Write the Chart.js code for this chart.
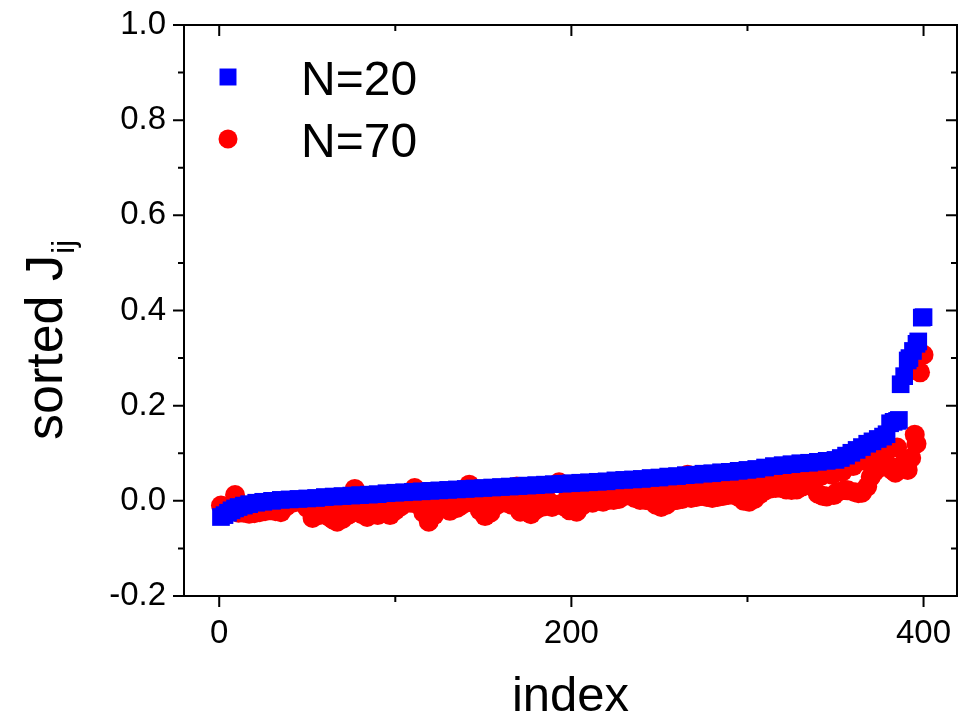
<!DOCTYPE html>
<html lang="en">
<head>
<meta charset="UTF-8" />
<title>sorted Jij</title>
<script src="https://cdn.jsdelivr.net/npm/chart.js"></script>
<style>
  body { margin: 0; background: #fff; }
  #wrap { width: 960px; height: 724px; }
</style>
</head>
<body>
<div id="wrap"><canvas id="jChart" width="960" height="724"></canvas></div>
<script>
const FONT = "'Liberation Sans', Arial, Helvetica, sans-serif";

const seriesNames = ['N=20', 'N=70'];
const xTicks = [0, 200, 400];
const yTicks = [-0.2, 0.0, 0.2, 0.4, 0.6, 0.8, 1.0];

// N=20 sorted couplings
const n20Index = [1, 3, 5, 7, 9, 11, 14, 17, 21, 25, 30, 35, 40, 45, 50, 55, 60, 65, 70, 75,
  80, 85, 90, 95, 100, 105, 110, 115, 120, 125, 130, 135, 140, 145, 150, 155, 160, 165, 170, 175,
  180, 185, 190, 195, 200, 205, 210, 215, 220, 225, 230, 235, 240, 245, 250, 255, 260, 265, 270, 275,
  280, 285, 290, 295, 300, 305, 310, 315, 320, 325, 330, 335, 340, 345, 350, 353, 356, 359, 362, 365,
  368, 371, 374, 377, 379, 381, 383, 385, 386, 387, 389, 391, 392, 394, 396, 397, 399, 400];
const n20Value = [-0.034, -0.030, -0.025, -0.020, -0.016, -0.013, -0.010, -0.007, -0.004, -0.002, 0.000, 0.002, 0.003, 0.004, 0.005, 0.006, 0.008, 0.009, 0.010, 0.011,
  0.012, 0.013, 0.014, 0.016, 0.017, 0.018, 0.019, 0.020, 0.021, 0.022, 0.023, 0.024, 0.025, 0.026, 0.027, 0.028, 0.029, 0.030, 0.031, 0.032,
  0.033, 0.034, 0.035, 0.036, 0.037, 0.038, 0.039, 0.040, 0.041, 0.043, 0.044, 0.045, 0.046, 0.048, 0.049, 0.051, 0.052, 0.054, 0.055, 0.057,
  0.058, 0.060, 0.061, 0.063, 0.065, 0.067, 0.070, 0.073, 0.075, 0.077, 0.079, 0.080, 0.082, 0.084, 0.086, 0.090, 0.095, 0.101, 0.107, 0.113,
  0.120, 0.125, 0.130, 0.135, 0.140, 0.163, 0.166, 0.168, 0.170, 0.245, 0.262, 0.295, 0.300, 0.315, 0.330, 0.335, 0.385, 0.386];

// N=70 sorted couplings
const n70Index = [1, 3, 5, 7, 9, 11, 14, 17, 20, 23, 26, 29, 32, 35, 38, 41, 44, 47, 50, 53,
  56, 57, 59, 62, 63, 65, 67, 68, 70, 73, 74, 77, 78, 81, 84, 86, 87, 90, 92, 94,
  97, 98, 100, 103, 106, 109, 111, 113, 116, 118, 119, 122, 124, 125, 128, 131, 134, 135, 137, 140,
  142, 145, 148, 150, 151, 154, 156, 157, 160, 163, 166, 169, 171, 174, 175, 177, 178, 180, 181, 184,
  186, 187, 189, 192, 193, 196, 198, 199, 203, 204, 206, 209, 210, 212, 215, 216, 218, 221, 222, 224,
  227, 228, 230, 233, 234, 236, 239, 240, 242, 245, 246, 248, 251, 252, 254, 257, 258, 260, 263, 264,
  266, 268, 270, 271, 274, 276, 277, 280, 282, 283, 286, 288, 289, 292, 294, 295, 298, 300, 301, 304,
  306, 307, 310, 312, 313, 316, 318, 319, 322, 324, 325, 328, 330, 331, 334, 336, 337, 340, 342, 343,
  345, 348, 349, 351, 354, 355, 357, 360, 361, 363, 365, 366, 368, 370, 371, 372, 374, 375, 377, 379,
  380, 382, 384, 385, 387, 389, 391, 393, 395, 396, 398, 400];
const n70Value = [-0.010, -0.020, -0.022, -0.018, 0.012, -0.025, -0.025, -0.027, -0.026, -0.024, -0.022, -0.020, -0.022, -0.024, -0.012, -0.005, -0.002, -0.003, -0.015, -0.036,
  -0.024, -0.030, -0.025, -0.022, -0.035, -0.040, -0.044, -0.020, -0.038, -0.030, -0.019, 0.025, -0.020, -0.028, -0.034, -0.017, -0.026, -0.030, -0.015, -0.022,
  -0.030, -0.013, -0.020, -0.012, -0.005, -0.004, 0.027, -0.008, -0.025, -0.009, -0.044, -0.030, -0.008, -0.015, -0.012, -0.021, -0.006, -0.015, -0.010, -0.004,
  0.034, -0.005, -0.020, -0.003, -0.032, -0.025, -0.002, -0.010, -0.004, -0.004, -0.008, 0.030, -0.023, 0.002, -0.020, -0.028, 0.003, -0.018, 0.030, -0.012,
  0.004, -0.010, -0.013, -0.008, 0.039, -0.012, 0.007, -0.020, -0.023, 0.008, -0.010, -0.002, 0.009, -0.004, 0.000, 0.010, -0.002, 0.002, 0.012, 0.002,
  0.004, 0.013, 0.010, 0.013, 0.015, 0.006, 0.002, 0.016, 0.002, 0.000, 0.018, -0.008, -0.013, 0.020, -0.008, 0.000, 0.022, 0.002, 0.004, 0.023,
  0.055, 0.006, 0.025, 0.008, 0.010, 0.027, 0.008, 0.006, 0.029, 0.008, 0.010, 0.031, 0.012, 0.013, 0.033, 0.008, 0.000, 0.035, -0.002, 0.004,
  0.038, 0.014, 0.022, 0.041, 0.026, 0.027, 0.044, 0.027, 0.024, 0.047, 0.023, 0.024, 0.049, 0.030, 0.038, 0.051, 0.030, 0.015, 0.053, 0.010,
  0.009, 0.055, 0.012, 0.018, 0.062, 0.023, 0.022, 0.073, 0.018, 0.016, 0.017, 0.085, 0.030, 0.050, 0.085, 0.061, 0.095, 0.070, 0.093, 0.105,
  0.075, 0.065, 0.059, 0.112, 0.072, 0.080, 0.065, 0.090, 0.139, 0.120, 0.270, 0.307];

const toPoints = (xs, ys) => xs.map((x, i) => ({ x: x, y: ys[i] }));

// frame box with ticks on all four sides (outward left/bottom, inward top/right)
const framePlugin = {
  id: 'frame',
  afterDraw(chart) {
    const { ctx, chartArea: a, scales: { x, y } } = chart;
    const major = 11, minor = 6;
    ctx.save();
    ctx.strokeStyle = '#000';
    ctx.lineWidth = 2;
    ctx.strokeRect(a.left, a.top, a.right - a.left, a.bottom - a.top);
    ctx.beginPath();
    const xs = x.ticks.map(t => t.value);
    xs.forEach((v, i) => {
      const px = x.getPixelForValue(v);
      ctx.moveTo(px, a.bottom); ctx.lineTo(px, a.bottom + major);
      ctx.moveTo(px, a.top); ctx.lineTo(px, a.top + major);
      if (i < xs.length - 1) {
        const pm = x.getPixelForValue((v + xs[i + 1]) / 2);
        ctx.moveTo(pm, a.bottom); ctx.lineTo(pm, a.bottom + minor);
        ctx.moveTo(pm, a.top); ctx.lineTo(pm, a.top + minor);
      }
    });
    const ys = y.ticks.map(t => t.value);
    ys.forEach((v, i) => {
      const py = y.getPixelForValue(v);
      ctx.moveTo(a.left, py); ctx.lineTo(a.left - major, py);
      ctx.moveTo(a.right, py); ctx.lineTo(a.right - major, py);
      if (i < ys.length - 1) {
        const pm = y.getPixelForValue((v + ys[i + 1]) / 2);
        ctx.moveTo(a.left, pm); ctx.lineTo(a.left - minor, pm);
        ctx.moveTo(a.right, pm); ctx.lineTo(a.right - minor, pm);
      }
    });
    ctx.stroke();
    ctx.restore();
  }
};

// legend inside the plot, top left
const legendPlugin = {
  id: 'insideLegend',
  afterDraw(chart) {
    const { ctx, chartArea: a } = chart;
    ctx.save();
    chart.data.datasets.forEach((ds, i) => {
      const cy = a.top + 52 + i * 62;
      ctx.fillStyle = ds.backgroundColor;
      Chart.helpers.drawPoint(ctx, {
        pointStyle: ds.pointStyle,
        radius: ds.pointStyle === 'rect' ? 12 : 9.5,
        rotation: 0,
        borderWidth: 0
      }, a.left + 44, cy);
      ctx.fillStyle = '#000';
      ctx.font = '48px ' + FONT;
      ctx.textBaseline = 'alphabetic';
      ctx.textAlign = 'left';
      ctx.fillText(ds.label, a.left + 117, cy + 18);
    });
    ctx.restore();
  }
};

// y axis title with subscript
const yTitlePlugin = {
  id: 'yTitle',
  afterDraw(chart) {
    const { ctx } = chart;
    ctx.save();
    ctx.translate(62, 440);
    ctx.rotate(-Math.PI / 2);
    ctx.fillStyle = '#000';
    ctx.textBaseline = 'alphabetic';
    ctx.textAlign = 'left';
    ctx.font = '52px ' + FONT;
    const main = 'sorted J';
    ctx.fillText(main, 0, 0);
    const w = ctx.measureText(main).width;
    ctx.font = '32px ' + FONT;
    ctx.fillText('ij', w + 1, 12);
    ctx.restore();
  }
};

new Chart(document.getElementById('jChart'), {
  type: 'scatter',
  data: {
    datasets: [{
      label: seriesNames[0],
      data: toPoints(n20Index, n20Value),
      pointStyle: 'rect',
      pointRadius: 12.5,
      backgroundColor: '#0000ff',
      borderWidth: 0
    }, {
      label: seriesNames[1],
      data: toPoints(n70Index, n70Value),
      pointStyle: 'circle',
      pointRadius: 10,
      backgroundColor: '#ff0000',
      borderWidth: 0
    }]
  },
  options: {
    responsive: false,
    animation: false,
    events: [],
    layout: { autoPadding: false, padding: { left: 0, right: 3, top: 25, bottom: 0 } },
    plugins: {
      legend: { display: false },
      tooltip: { enabled: false }
    },
    scales: {
      x: {
        type: 'linear',
        min: -20,
        max: 419,
        grid: { display: false, drawTicks: true, tickLength: 18 },
        border: { display: false },
        afterBuildTicks: s => { s.ticks = xTicks.map(v => ({ value: v })); },
        afterFit: s => { s.height = 128; s.paddingLeft = 0; s.paddingRight = 0; },
        ticks: {
          padding: 0,
          color: '#000',
          maxRotation: 0,
          font: { family: FONT, size: 33 },
          callback: v => String(v)
        },
        title: {
          display: true,
          text: 'index',
          color: '#000',
          font: { family: FONT, size: 49 },
          padding: { top: 0, bottom: -3 }
        }
      },
      y: {
        type: 'linear',
        min: -0.2,
        max: 1.0,
        grid: { display: false, drawTicks: false },
        border: { display: false },
        afterBuildTicks: s => { s.ticks = yTicks.map(v => ({ value: v })); },
        afterFit: s => { s.width = 184; s.paddingTop = 0; s.paddingBottom = 0; },
        ticks: {
          padding: 18,
          color: '#000',
          font: { family: FONT, size: 33 },
          callback: v => Number(v).toFixed(1)
        }
      }
    }
  },
  plugins: [framePlugin, legendPlugin, yTitlePlugin]
});
</script>
</body>
</html>
